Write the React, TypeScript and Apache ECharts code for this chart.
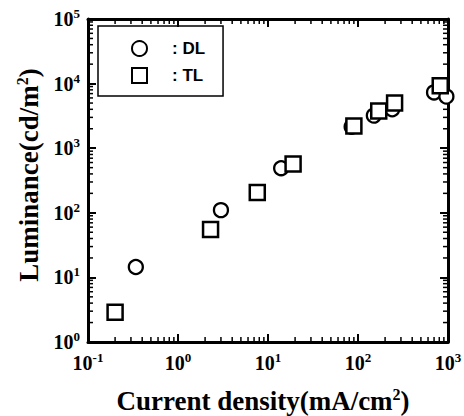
import React, { useEffect, useRef } from "react";
import * as echarts from "echarts";

const dlCurrent = [0.34, 3.0, 14, 85, 150, 240, 700, 960];
const dlLuminance = [14.5, 110, 490, 2150, 3200, 4000, 7300, 6300];
const tlCurrent = [0.2, 2.3, 7.6, 19, 90, 170, 255, 820];
const tlLuminance = [2.9, 55, 207, 570, 2200, 3750, 5000, 9300];

const xDecades = [0.1, 1, 10, 100];
const yDecades = [1, 10, 100, 1000, 10000];
const minorSteps = [2, 3, 4, 5, 6, 7, 8, 9];

const SERIF = "Liberation Serif";
const SANS = "Liberation Sans";

function pairs(xs: number[], ys: number[]) {
  return xs.map((x, i) => [x, ys[i]]);
}

export default function App() {
  const ref = useRef<HTMLDivElement>(null);
  useEffect(() => {
    if (!ref.current) return;
    const chart = echarts.init(ref.current, undefined, { renderer: "svg" });
    const xMinor: number[][] = [];
    xDecades.forEach((d) => minorSteps.forEach((m) => xMinor.push([d * m, 1])));
    const yMinor: number[][] = [];
    yDecades.forEach((d) => minorSteps.forEach((m) => yMinor.push([1, d * m])));

    const tickLabel = (v: number) => `{b|10}{s|${Math.round(Math.log10(v))}}`;
    const rich = {
      b: { fontSize: 20, fontFamily: SERIF, color: "#000", fontWeight: "bold" },
      s: { fontSize: 13, fontFamily: SERIF, color: "#000", fontWeight: "bold", padding: [0, 0, 11, 0] },
    };
    const nameRich = {
      s: { fontSize: 16, fontFamily: SERIF, color: "#000", fontWeight: "bold", padding: [0, 0, 13, 0] },
    };
    const lineStyle = { color: "#000", width: 3 };
    const tick = { show: true, inside: true, length: 8, lineStyle: { color: "#000", width: 2 } };
    const minorLen = 5;
    const labelBase = { fontSize: 20, fontFamily: SERIF, fontWeight: "bold", color: "#000" };

    chart.setOption({
      animation: false,
      backgroundColor: "#fff",
      grid: { left: 88, right: 16, top: 19, bottom: 74, containLabel: false, outerBoundsMode: "none" },
      legend: {
        data: ["DL", "TL"],
        orient: "vertical",
        left: 98,
        top: 26,
        padding: [14, 18, 12, 33],
        borderColor: "#000",
        borderWidth: 1.5,
        itemWidth: 15,
        itemHeight: 15,
        itemGap: 10,
        formatter: (n: string) => ": " + n,
        textStyle: { fontFamily: SANS, fontWeight: "bold", fontSize: 17, lineHeight: 15, color: "#000", padding: [0, 0, 0, 20] },
      },
      xAxis: [
        {
          type: "log",
          logBase: 10,
          min: 0.1,
          max: 1000,
          splitNumber: 4,
          position: "bottom",
          axisLine: { lineStyle },
          axisTick: tick,
          splitLine: { show: false },
          axisLabel: { ...labelBase, formatter: tickLabel, rich, margin: 9 },
          name: "Current density(mA/cm{s|2})",
          nameLocation: "middle",
          nameGap: 44,
          nameTextStyle: { fontFamily: SERIF, fontSize: 27, fontWeight: "bold", color: "#000", rich: nameRich, padding: [0, 10, 0, 0] },
        },
        {
          type: "log",
          logBase: 10,
          min: 0.1,
          max: 1000,
          splitNumber: 4,
          position: "top",
          axisLine: { lineStyle },
          axisTick: tick,
          splitLine: { show: false },
          axisLabel: { show: false },
        },
      ],
      yAxis: [
        {
          type: "log",
          logBase: 10,
          min: 1,
          max: 100000,
          splitNumber: 5,
          position: "left",
          axisLine: { lineStyle },
          axisTick: tick,
          splitLine: { show: false },
          axisLabel: { ...labelBase, formatter: tickLabel, rich, margin: 8 },
          name: "Luminance(cd/m{s|2})",
          nameLocation: "middle",
          nameGap: 45,
          nameTextStyle: { fontFamily: SERIF, fontSize: 27, fontWeight: "bold", color: "#000", rich: nameRich, padding: [0, 0, 0, 11] },
        },
        {
          type: "log",
          logBase: 10,
          min: 1,
          max: 100000,
          splitNumber: 5,
          position: "right",
          axisLine: { lineStyle },
          axisTick: tick,
          splitLine: { show: false },
          axisLabel: { show: false },
        },
      ],
      series: [
        {
          type: "custom",
          silent: true,
          xAxisIndex: 0,
          yAxisIndex: 0,
          data: xMinor,
          renderItem: (params: any, api: any) => {
            const v = api.value(0);
            const b = api.coord([v, 1]);
            const t = api.coord([v, 100000]);
            const st = { stroke: "#000", lineWidth: 1.5 };
            return {
              type: "group",
              children: [
                { type: "line", shape: { x1: b[0], y1: b[1], x2: b[0], y2: b[1] - minorLen }, style: st },
                { type: "line", shape: { x1: t[0], y1: t[1], x2: t[0], y2: t[1] + minorLen }, style: st },
              ],
            };
          },
        },
        {
          type: "custom",
          silent: true,
          xAxisIndex: 0,
          yAxisIndex: 0,
          data: yMinor,
          renderItem: (params: any, api: any) => {
            const v = api.value(1);
            const l = api.coord([0.1, v]);
            const r = api.coord([1000, v]);
            const st = { stroke: "#000", lineWidth: 1.5 };
            return {
              type: "group",
              children: [
                { type: "line", shape: { x1: l[0], y1: l[1], x2: l[0] + minorLen, y2: l[1] }, style: st },
                { type: "line", shape: { x1: r[0], y1: r[1], x2: r[0] - minorLen, y2: r[1] }, style: st },
              ],
            };
          },
        },
        {
          name: "DL",
          type: "scatter",
          symbol: "circle",
          symbolSize: 14,
          data: pairs(dlCurrent, dlLuminance),
          itemStyle: { color: "#fff", borderColor: "#000", borderWidth: 2.3, opacity: 1 },
          z: 3,
        },
        {
          name: "TL",
          type: "scatter",
          symbol: "rect",
          symbolSize: 15,
          data: pairs(tlCurrent, tlLuminance),
          itemStyle: { color: "#fff", borderColor: "#000", borderWidth: 2.5, opacity: 1 },
          z: 4,
        },
      ],
    });
    return () => chart.dispose();
  }, []);
  return <div ref={ref} style={{ position: "fixed", left: 0, top: 0, width: 464, height: 416 }} />;
}
